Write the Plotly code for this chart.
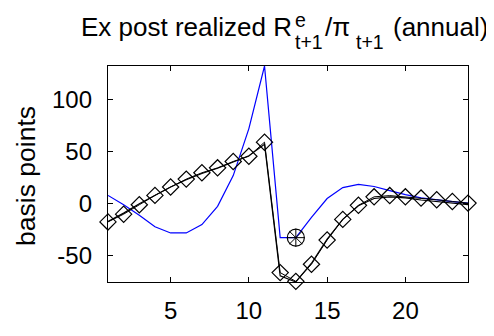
import plotly.graph_objects as go

# ---- data ----
periods = list(range(1, 25))
blue_line = [8, -1, -11, -22, -28, -28, -20, -2.5, 27, 72, 132, -32.5,
             -32.5, -13, 5, 15.5, 18.5, 16.5, 12.5, 8.7, 5.7, 3.6, 2.1, 0.6]
black_line = [-17, -9, 0, 8, 16, 23, 29, 34, 40, 46, 57, -69,
              -75, -57, -34, -15, -2, 5, 6.6, 5.7, 3.6, 2, 0.6, -0.9]
diamond_series = [-17.4, -10, -1, 8, 16, 23.6, 29.7, 34.4, 40.5, 45.5, 59, -66,
                  -74.4, -58, -34.8, -15, -1.5, 6.6, 7.8, 6.6, 5.4, 3.8, 2.2, 0.6]
mark_x = [13]
mark_y = [-32.5]
x_ticks = [5, 10, 15, 20]
y_ticks = [-50, 0, 50, 100]
y_tick_labels = ["-50", "0", "50", "100"]

# page has an 8px body margin; work in page pixels and convert
OFF = 8
W, H = 494 - OFF, 336 - OFF
PLOT_L, PLOT_R, PLOT_T, PLOT_B = 108 - OFF, 468 - OFF, 66 - OFF, 296 - OFF
ML, MR, MT, MB = PLOT_L, W - PLOT_R, PLOT_T, H - PLOT_B
PW, PH = PLOT_R - PLOT_L, PLOT_B - PLOT_T
FONT = "Liberation Sans, Arial, Helvetica, sans-serif"


def px_x(p):
    return (p - OFF - PLOT_L) / PW


def px_y(p):
    return (PLOT_B - (p - OFF)) / PH


fig = go.Figure()
fig.add_trace(go.Scatter(x=periods, y=blue_line, mode="lines",
                         line=dict(color="#0000ff", width=1.2), showlegend=False))
fig.add_trace(go.Scatter(x=periods, y=black_line, mode="lines",
                         line=dict(color="black", width=1.2), showlegend=False))
fig.add_trace(go.Scatter(x=periods, y=diamond_series, mode="lines+markers",
                         line=dict(color="black", width=1),
                         marker=dict(symbol="diamond-open", size=12.5,
                                     color="black", line=dict(color="black", width=1.2)),
                         cliponaxis=False, showlegend=False))
fig.add_trace(go.Scatter(x=mark_x, y=mark_y, mode="markers",
                         marker=dict(symbol="circle-open", size=17, color="black",
                                     line=dict(color="black", width=1.2)),
                         cliponaxis=False, showlegend=False))
fig.add_trace(go.Scatter(x=mark_x, y=mark_y, mode="markers",
                         marker=dict(symbol="asterisk-open", size=15, color="black",
                                     line=dict(color="black", width=1)),
                         cliponaxis=False, showlegend=False))

axis_common = dict(showgrid=False, zeroline=False, showline=True, linecolor="black",
                   linewidth=1.3, mirror="allticks", ticks="inside", ticklen=5,
                   tickcolor="black", tickwidth=1,
                   tickfont=dict(family=FONT, size=24, color="black"))
fig.update_xaxes(range=[1, 24], tickvals=x_ticks, ticklabelstandoff=7, **axis_common)
fig.update_yaxes(range=[-75, 132], tickvals=y_ticks, ticktext=y_tick_labels,
                 ticklabelstandoff=10, **axis_common)

anns = []


def add_text(text, left, baseline, size):
    # place text so that its baseline is approximately at 'baseline' pixel
    center = baseline - 0.3465 * size
    anns.append(dict(text=text, xref="paper", yref="paper", x=px_x(left), y=px_y(center),
                     xanchor="left", yanchor="middle", showarrow=False,
                     borderpad=0, borderwidth=0,
                     font=dict(family=FONT, size=size, color="black")))


TS, SS = 26, 19.5
add_text("Ex post realized R", 81, 33.5, TS)
add_text("e", 295, 23.7, SS)
add_text("t+1", 295, 46.7, SS)
add_text("/π", 325, 33.5, TS)
add_text("t+1", 356, 46.7, SS)
add_text("(annual)", 393, 33.5, TS)

anns.append(dict(text="basis points", xref="paper", yref="paper",
                 x=px_x(26), y=px_y(183), xanchor="center", yanchor="middle",
                 textangle=-90, showarrow=False, borderpad=0, borderwidth=0,
                 font=dict(family=FONT, size=26.5, color="black")))

fig.update_layout(width=W, height=H, margin=dict(l=ML, r=MR, t=MT, b=MB),
                  paper_bgcolor="white", plot_bgcolor="white",
                  annotations=anns, showlegend=False)

fig.write_html("out.html")
